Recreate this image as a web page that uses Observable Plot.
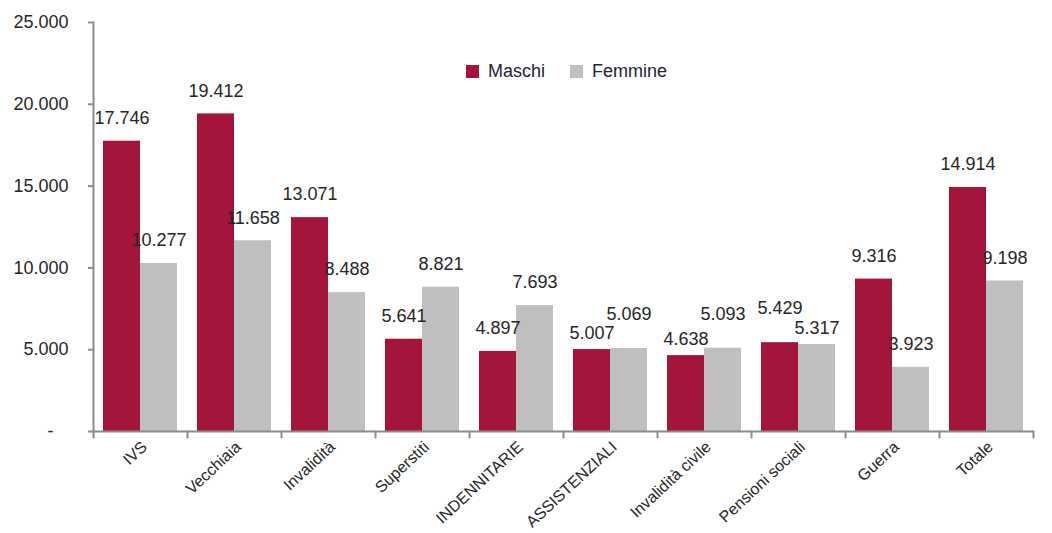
<!DOCTYPE html>
<html><head><meta charset="utf-8">
<script src="https://cdn.jsdelivr.net/npm/d3@7"></script>
<script src="https://cdn.jsdelivr.net/npm/@observablehq/plot@0.6"></script>
<style>
body{margin:0;background:#fff;font-family:"Liberation Sans",Arial,sans-serif;}
#chart{position:relative;width:1052px;height:533px;}
#legend{position:absolute;left:466px;top:55px;}
</style></head><body><div id="chart"><div id="legend"></div></div>
<script>
const categories = ["IVS","Vecchiaia","Invalidità","Superstiti","INDENNITARIE","ASSISTENZIALI","Invalidità civile","Pensioni sociali","Guerra","Totale"];
const series = ["Maschi","Femmine"];
const maschi = [17746,19412,13071,5641,4897,5007,4638,5429,9316,14914];
const femmine = [10277,11658,8488,8821,7693,5069,5093,5317,3923,9198];
const colors = ["#a5143a","#bfbfbf"];
const yTicks = [0,5000,10000,15000,20000,25000];

const data = categories.flatMap((c,i)=>[
  {category:c, serie:"Maschi", value:maschi[i], other:femmine[i]},
  {category:c, serie:"Femmine", value:femmine[i], other:maschi[i]}
]);
// labels of near-equal pairs are staggered: the taller bar's label goes up, the other down
const close = d => Math.abs(d.value - d.other) < 1000;
const normal = data.filter(d => !close(d));
const raised = data.filter(d => close(d) && d.value >= d.other);
const lowered = data.filter(d => close(d) && d.value < d.other);

const it = d3.formatLocale({decimal:",", thousands:".", grouping:[3], currency:["€",""]});
const fmt = it.format(",d");
const lineShape = {draw(ctx, l){ ctx.moveTo(0,0); ctx.lineTo(0,-l); }};
const axisColor = "#8c8c8c";
const labelOpts = {fx:"category", x:"serie", y:"value", text:d=>fmt(d.value), fontSize:18, fill:"#262626", lineAnchor:"middle"};

const plot = Plot.plot({
  width:1052, height:533, marginLeft:90, marginRight:16, marginTop:22, marginBottom:102,
  style:{fontFamily:"'Liberation Sans', Arial, sans-serif", color:"#262626", background:"#fff"},
  fx:{domain:categories, paddingInner:0, paddingOuter:0, label:null},
  x:{domain:series, paddingInner:0, paddingOuter:0.25, axis:null},
  y:{domain:[0,25000], label:null},
  color:{domain:series, range:colors},
  marks:[
    Plot.barY(data, {fx:"category", x:"serie", y:"value", fill:"serie"}),
    Plot.text(normal, {...labelOpts, dy:-23}),
    Plot.text(raised, {...labelOpts, dy:-34}),
    Plot.text(lowered, {...labelOpts, dy:-16}),
    Plot.ruleY([0], {stroke:axisColor, strokeWidth:2}),
    Plot.frame({anchor:"left", facet:"super", stroke:axisColor, strokeWidth:2}),
    Plot.vector(categories, {fx:d=>d, frameAnchor:"bottom-left", length:6, rotate:180, anchor:"start", shape:lineShape, stroke:axisColor, strokeWidth:2}),
    Plot.vector([categories[categories.length-1]], {fx:d=>d, frameAnchor:"bottom-right", length:6, rotate:180, anchor:"start", shape:lineShape, stroke:axisColor, strokeWidth:2}),
    Plot.axisY(yTicks, {tickSize:5, tickPadding:20, stroke:axisColor, strokeWidth:2, fill:"#262626", fontSize:18,
      tickFormat:d=> d===0 ? "-\u00a0\u00a0\u00a0" : fmt(d)}),
    Plot.axisFx({anchor:"bottom", tickRotate:-43, tickSize:0, tickPadding:13, dx:4, fontSize:16, fill:"#262626", label:null})
  ]
});
document.getElementById("chart").prepend(plot);

const legend = Plot.legend({color:{domain:series, range:colors}, legend:"swatches", swatchSize:13,
  style:{fontSize:"18px", fontFamily:"'Liberation Sans', Arial, sans-serif", color:"#1f2433"}});
document.getElementById("legend").append(legend);
</script>
<style>
#legend span{margin-right:25px;}
</style>
</body></html>
